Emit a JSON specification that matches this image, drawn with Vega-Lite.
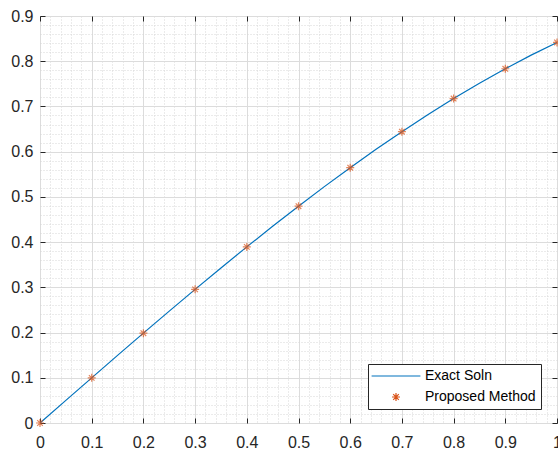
{
  "$schema": "https://vega.github.io/schema/vega-lite/v6.json",
  "width": 517,
  "height": 407,
  "autosize": {"type": "none"},
  "padding": {"left": 40, "top": 16, "right": 1, "bottom": 26},
  "background": "white",
  "config": {
    "view": {"stroke": "#262626", "strokeWidth": 1},
    "font": "Liberation Sans",
    "axis": {"labelFont": "Liberation Sans", "labelFontSize": 16, "labelColor": "#262626", "domain": false}
  },
  "data": {"values": [
    {"x": 0, "y": 0, "series": "Exact Soln"},
    {"x": 0.05, "y": 0.04998, "series": "Exact Soln"},
    {"x": 0.1, "y": 0.09983, "series": "Exact Soln"},
    {"x": 0.15, "y": 0.14944, "series": "Exact Soln"},
    {"x": 0.2, "y": 0.19867, "series": "Exact Soln"},
    {"x": 0.25, "y": 0.2474, "series": "Exact Soln"},
    {"x": 0.3, "y": 0.29552, "series": "Exact Soln"},
    {"x": 0.35, "y": 0.3429, "series": "Exact Soln"},
    {"x": 0.4, "y": 0.38942, "series": "Exact Soln"},
    {"x": 0.45, "y": 0.43497, "series": "Exact Soln"},
    {"x": 0.5, "y": 0.47943, "series": "Exact Soln"},
    {"x": 0.55, "y": 0.52269, "series": "Exact Soln"},
    {"x": 0.6, "y": 0.56464, "series": "Exact Soln"},
    {"x": 0.65, "y": 0.60519, "series": "Exact Soln"},
    {"x": 0.7, "y": 0.64422, "series": "Exact Soln"},
    {"x": 0.75, "y": 0.68164, "series": "Exact Soln"},
    {"x": 0.8, "y": 0.71736, "series": "Exact Soln"},
    {"x": 0.85, "y": 0.75128, "series": "Exact Soln"},
    {"x": 0.9, "y": 0.78333, "series": "Exact Soln"},
    {"x": 0.95, "y": 0.81342, "series": "Exact Soln"},
    {"x": 1, "y": 0.84147, "series": "Exact Soln"},
    {"x": 0, "y": 0, "series": "Proposed Method"},
    {"x": 0.1, "y": 0.09983, "series": "Proposed Method"},
    {"x": 0.2, "y": 0.19867, "series": "Proposed Method"},
    {"x": 0.3, "y": 0.29552, "series": "Proposed Method"},
    {"x": 0.4, "y": 0.38942, "series": "Proposed Method"},
    {"x": 0.5, "y": 0.47943, "series": "Proposed Method"},
    {"x": 0.6, "y": 0.56464, "series": "Proposed Method"},
    {"x": 0.7, "y": 0.64422, "series": "Proposed Method"},
    {"x": 0.8, "y": 0.71736, "series": "Proposed Method"},
    {"x": 0.9, "y": 0.78333, "series": "Proposed Method"},
    {"x": 1, "y": 0.84147, "series": "Proposed Method"}
  ]},
  "resolve": {"axis": {"x": "independent", "y": "independent"}},
  "layer": [
    {
      "transform": [{"filter": "datum.series === 'Exact Soln'"}],
      "mark": {"type": "line", "opacity": 0},
      "encoding": {
        "x": {"field": "x", "type": "quantitative", "scale": {"domain": [0, 1], "nice": false, "zero": false},
          "axis": {"orient": "bottom", "title": null, "labels": false, "ticks": false, "grid": true, "gridColor": "#d6d6d6", "gridDash": [1, 2], "gridWidth": 1,
            "values": [0,0.02,0.04,0.06,0.08,0.1,0.12,0.14,0.16,0.18,0.2,0.22,0.24,0.26,0.28,0.3,0.32,0.34,0.36,0.38,0.4,0.42,0.44,0.46,0.48,0.5,0.52,0.54,0.56,0.58,0.6,0.62,0.64,0.66,0.68,0.7,0.72,0.74,0.76,0.78,0.8,0.82,0.84,0.86,0.88,0.9,0.92,0.94,0.96,0.98,1]}},
        "y": {"field": "y", "type": "quantitative", "scale": {"domain": [0, 0.9], "nice": false, "zero": false},
          "axis": {"orient": "left", "title": null, "labels": false, "ticks": false, "grid": true, "gridColor": "#d6d6d6", "gridDash": [1, 2], "gridWidth": 1,
            "values": [0,0.02,0.04,0.06,0.08,0.1,0.12,0.14,0.16,0.18,0.2,0.22,0.24,0.26,0.28,0.3,0.32,0.34,0.36,0.38,0.4,0.42,0.44,0.46,0.48,0.5,0.52,0.54,0.56,0.58,0.6,0.62,0.64,0.66,0.68,0.7,0.72,0.74,0.76,0.78,0.8,0.82,0.84,0.86,0.88,0.9]}}
      }
    },
    {
      "transform": [{"filter": "datum.series === 'Exact Soln'"}],
      "mark": {"type": "line", "strokeWidth": 1.2},
      "encoding": {
        "x": {"field": "x", "type": "quantitative",
          "axis": {"orient": "bottom", "title": null, "grid": true, "gridColor": "#dcdcdc", "gridWidth": 1, "ticks": true, "tickSize": -5, "tickColor": "#262626", "labelPadding": 16, "labelFlush": false, "labelFontSize": 16, "labelOverlap": false,
            "values": [0,0.1,0.2,0.3,0.4,0.5,0.6,0.7,0.8,0.9,1], "format": "~g"}},
        "y": {"field": "y", "type": "quantitative",
          "axis": {"orient": "left", "title": null, "grid": true, "gridColor": "#dcdcdc", "gridWidth": 1, "ticks": true, "tickSize": -5, "tickColor": "#262626", "labelPadding": 12, "labelFlush": false, "labelFontSize": 16, "labelOverlap": false,
            "values": [0,0.1,0.2,0.3,0.4,0.5,0.6,0.7,0.8,0.9], "format": "~g"}},
        "color": {"field": "series", "type": "nominal",
          "scale": {"domain": ["Exact Soln", "Proposed Method"], "range": ["#0072BD", "#D95319"]},
          "legend": {"title": null, "orient": "none", "legendX": 328, "legendY": 348,
            "symbolSize": 64, "symbolStrokeWidth": 1.2, "labelFontSize": 14, "labelColor": "#000000", "labelFont": "Liberation Sans",
            "strokeColor": "#262626", "fillColor": "#ffffff", "padding": 5, "rowPadding": 7, "symbolOffset": 16, "labelOffset": 22}},
        "shape": {"field": "series", "type": "nominal",
          "scale": {"domain": ["Exact Soln", "Proposed Method"], "range": ["M-6.1,0L6.1,0", "M-1,0L1,0M0,-1L0,1M-0.7,-0.7L0.7,0.7M-0.7,0.7L0.7,-0.7"]}}
      }
    },
    {
      "transform": [{"filter": "datum.series === 'Proposed Method'"}],
      "mark": {"type": "point", "filled": false, "size": 64, "strokeWidth": 1.2},
      "encoding": {
        "x": {"field": "x", "type": "quantitative",
          "axis": {"orient": "top", "title": null, "labels": false, "grid": false, "ticks": true, "tickSize": -5, "tickColor": "#262626",
            "values": [0,0.1,0.2,0.3,0.4,0.5,0.6,0.7,0.8,0.9,1]}},
        "y": {"field": "y", "type": "quantitative",
          "axis": {"orient": "right", "title": null, "labels": false, "grid": false, "ticks": true, "tickSize": -5, "tickColor": "#262626",
            "values": [0,0.1,0.2,0.3,0.4,0.5,0.6,0.7,0.8,0.9]}},
        "color": {"field": "series", "type": "nominal"},
        "shape": {"field": "series", "type": "nominal"}
      }
    }
  ]
}
